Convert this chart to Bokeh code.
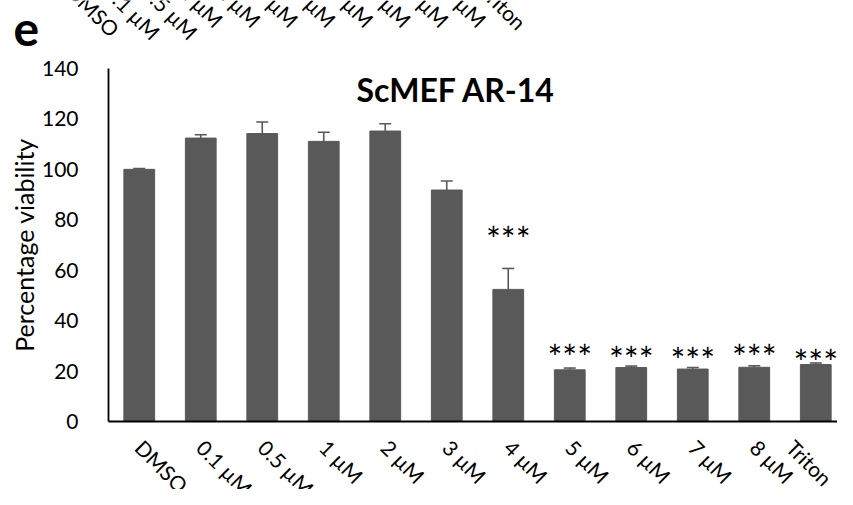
import math
from bokeh.plotting import figure
from bokeh.models import (ColumnDataSource, Range1d, Whisker, TeeHead, Label,
                          FixedTicker, LinearAxis)
from bokeh.core.properties import value
from bokeh.embed import file_html
from bokeh.resources import INLINE

# ---- data ----
categories = ["DMSO", "0.1 µM", "0.5 µM", "1 µM", "2 µM", "3 µM",
              "4 µM", "5 µM", "6 µM", "7 µM", "8 µM", "Triton"]
viability = [100.0, 112.4, 114.2, 111.1, 115.2, 91.8, 52.4, 20.5, 21.4, 20.8, 21.5, 22.6]
error = [0.3, 1.3, 4.6, 3.6, 2.9, 3.6, 8.3, 0.7, 0.6, 0.6, 0.6, 0.6]
sig_categories = ["4 µM", "5 µM", "6 µM", "7 µM", "8 µM", "Triton"]
sig_labels = ["***", "***", "***", "***", "***", "***"]
sig_label_y = [75.6, 28.6, 28.0, 27.6, 28.8, 26.7]
y_ticks = [0, 20, 40, 60, 80, 100, 120, 140]
title_text = "ScMEF AR-14"
y_label = "Percentage viability"
panel_letter = "e"
prev_panel_labels = categories   # cropped axis labels of the panel above

FONT = "Lato"
BAR = "#595959"

# ---- layout constants (picture pixels) ----
PAGE_L, PAGE_T = 0, 0
FIG_W, FIG_H = 837, 489
PAGE_R, PAGE_B = PAGE_L + FIG_W, PAGE_T + FIG_H
AXIS_X, AXIS_Y, TOP_Y = 108, 421, 68
CAT_PX = 61.5
PREV_CAT_PX = 37.6
Y_MAX = 140
PPY = (AXIS_Y - TOP_Y) / Y_MAX
PREV_AXIS_Y = -35          # where the cropped panel's axis sits (above the picture)
PREV_SHIFT_X = -140        # horizontal shift of that panel's "1 µM" label

ncat = len(categories)
xpos = [i + 0.5 for i in range(ncat)]
pos_of = dict(zip(categories, xpos))
upper = [v + e for v, e in zip(viability, error)]

src = ColumnDataSource(dict(x=xpos, val=viability, upper=upper))
sig_src = ColumnDataSource(dict(x=[pos_of[c] for c in sig_categories], y=sig_label_y, t=sig_labels))

p = figure(width=FIG_W, height=FIG_H,
           x_range=Range1d((PAGE_L - AXIS_X) / CAT_PX, (PAGE_R - AXIS_X) / CAT_PX),
           y_range=Range1d(-(PAGE_B - AXIS_Y) / PPY, Y_MAX + (TOP_Y - PAGE_T) / PPY),
           output_backend="svg", toolbar_location=None,
           min_border_left=0, min_border_right=0, min_border_top=0, min_border_bottom=0)
p.outline_line_color = None
p.xgrid.grid_line_color = None
p.ygrid.grid_line_color = None
p.background_fill_color = "white"
p.border_fill_color = "white"

p.vbar(x="x", top="val", width=0.5, source=src, fill_color=BAR, line_color=BAR)

wh = Whisker(base="x", lower="val", upper="upper", source=src, dimension="height",
             line_color=BAR, line_width=1.6,
             upper_head=TeeHead(size=12, line_color=BAR, line_width=1.6), lower_head=None)
p.add_layout(wh)

p.text(x="x", y="y", text="t", source=sig_src, text_align="center", text_baseline="middle",
       y_offset=7, text_font=value(FONT), text_font_size="35px", text_color="black")

# ---- axes ----
ya = p.yaxis[0]
ya.fixed_location = 0
ya.bounds = (0, Y_MAX)
ya.ticker = FixedTicker(ticks=y_ticks)
ya.minor_tick_line_color = None
ya.major_tick_line_color = None
ya.major_label_standoff = 24
ya.major_label_text_font = FONT
ya.major_label_text_font_size = "21px"
ya.major_label_text_color = "black"
ya.axis_line_color = "black"
ya.axis_line_width = 1.8
ya.axis_label = y_label
ya.axis_label_text_font = FONT
ya.axis_label_text_font_size = "25px"
ya.axis_label_text_font_style = "normal"
ya.axis_label_text_color = "black"
ya.axis_label_standoff = 0

def style_cat_axis(ax, labels):
    ax.ticker = FixedTicker(ticks=xpos)
    ax.major_label_overrides = {x: c for x, c in zip(xpos, labels)}
    ax.major_tick_line_color = None
    ax.minor_tick_line_color = None
    ax.major_label_orientation = -math.pi / 4
    ax.major_label_standoff = 16
    ax.major_label_text_font = FONT
    ax.major_label_text_font_size = "21px"
    ax.major_label_text_color = "black"

xa = p.xaxis[0]
xa.fixed_location = 0
xa.bounds = (0, ncat)
style_cat_axis(xa, categories)
xa.axis_line_color = "black"
xa.axis_line_width = 1.8

# ghost axis: the cropped category labels of the panel above
prev_origin = AXIS_X + 3.5 * CAT_PX - 3.5 * PREV_CAT_PX + PREV_SHIFT_X   # x of its first category edge
p.extra_x_ranges = {"prev": Range1d((PAGE_L - prev_origin) / PREV_CAT_PX,
                                    (PAGE_R - prev_origin) / PREV_CAT_PX)}
ghost = LinearAxis(x_range_name="prev", fixed_location=(AXIS_Y - PREV_AXIS_Y) / PPY)
style_cat_axis(ghost, prev_panel_labels)
ghost.axis_line_color = None
p.add_layout(ghost, "below")

def sx(px):
    return px - PAGE_L

def sy(py):
    return PAGE_B - py

p.add_layout(Label(x=sx(455.5), y=sy(89), x_units="screen", y_units="screen",
                   text=title_text, text_align="center", text_baseline="middle",
                   text_font=FONT, text_font_size="32px", text_font_style="bold",
                   text_color="black"))

p.add_layout(Label(x=sx(13), y=sy(28), x_units="screen", y_units="screen",
                   text=panel_letter, text_align="left", text_baseline="middle",
                   text_font=FONT, text_font_size="48px", text_font_style="bold",
                   text_color="black"))

open("out.html", "w").write(file_html(p, INLINE))
